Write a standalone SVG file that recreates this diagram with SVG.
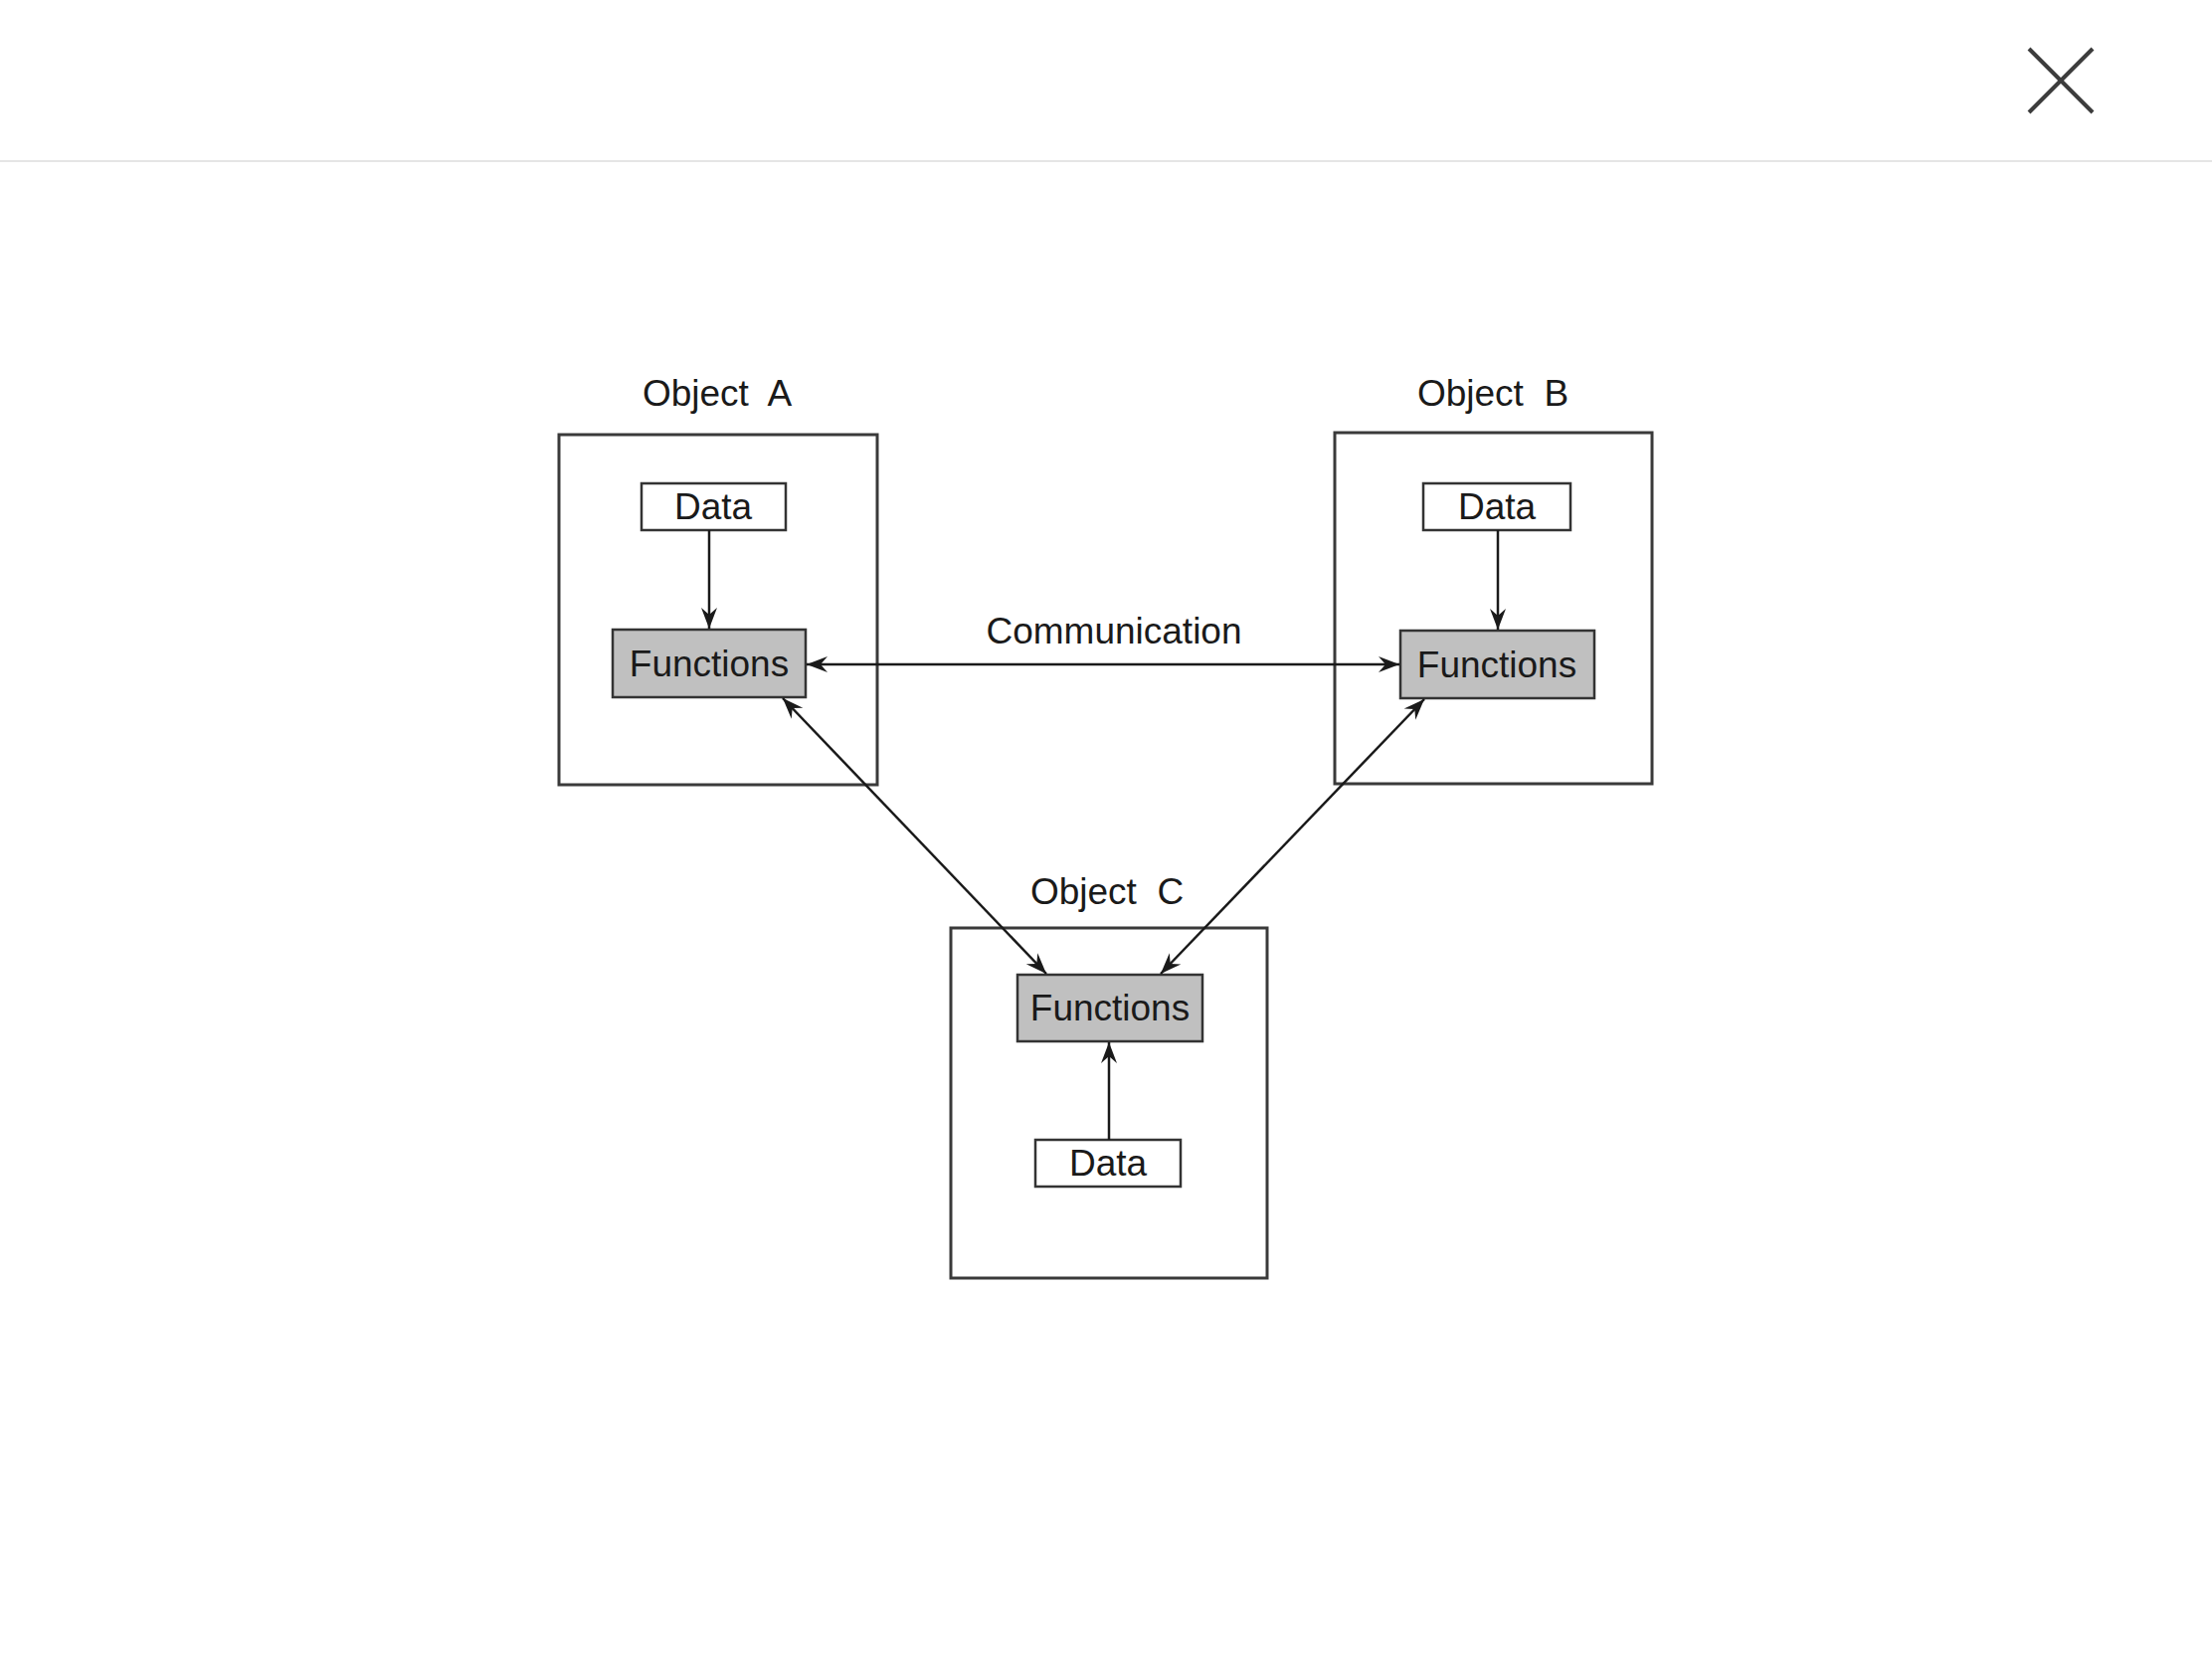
<svg xmlns="http://www.w3.org/2000/svg" width="2224" height="1668" viewBox="0 0 2224 1668">
<style>
text{font-family:"Liberation Sans",Arial,sans-serif;font-size:37px;fill:#1a1a1a;text-anchor:middle}
.obj{fill:#fff;stroke:#3a3a3a;stroke-width:3}
.data{fill:#fff;stroke:#333;stroke-width:2.5}
.fn{fill:#c0c0c0;stroke:#333;stroke-width:2.5}
.con{stroke:#1a1a1a;stroke-width:2.5;fill:none}
</style>
<defs>
<marker id="ah" markerUnits="userSpaceOnUse" markerWidth="24" markerHeight="18" viewBox="-22 -9 24 18" refX="0" refY="0" orient="auto-start-reverse">
<path d="M0,0 L-21,-8 L-14,0 L-21,8 Z" fill="#1a1a1a"/>
</marker>
</defs>
<rect width="2224" height="1668" fill="#fff"/>
<g id="close">
<line x1="2040" y1="49" x2="2104" y2="113" stroke="#3c3c3c" stroke-width="4"/>
<line x1="2104" y1="49" x2="2040" y2="113" stroke="#3c3c3c" stroke-width="4"/>
</g>
<line x1="0" y1="162" x2="2224" y2="162" stroke="#dddddd" stroke-width="1.5"/>
<g id="objectA">
<text x="721" y="408">Object&#160; A</text>
<rect class="obj" x="562" y="437" width="320" height="352"/>
<g id="dataA"><rect class="data" x="645" y="486" width="145" height="47"/><text x="717" y="522">Data</text></g>
<g id="functionsA"><rect class="fn" x="616" y="633" width="194" height="68"/><text x="713" y="680">Functions</text></g>
</g>
<g id="objectB">
<text x="1501" y="408">Object&#160; B</text>
<rect class="obj" x="1342" y="435" width="319" height="353"/>
<g id="dataB"><rect class="data" x="1431" y="486" width="148" height="47"/><text x="1505" y="522">Data</text></g>
<g id="functionsB"><rect class="fn" x="1408" y="634" width="195" height="68"/><text x="1505" y="681">Functions</text></g>
</g>
<g id="objectC">
<text x="1113" y="909">Object&#160; C</text>
<rect class="obj" x="956" y="933" width="318" height="352"/>
<g id="functionsC"><rect class="fn" x="1023" y="980" width="186" height="67"/><text x="1116" y="1026">Functions</text></g>
<g id="dataC"><rect class="data" x="1041" y="1146" width="146" height="47"/><text x="1114" y="1182">Data</text></g>
</g>
<g id="connectors">
<line class="con" x1="713" y1="533" x2="713" y2="632" marker-end="url(#ah)"/>
<line class="con" x1="1506" y1="533" x2="1506" y2="633" marker-end="url(#ah)"/>
<line class="con" x1="1115" y1="1146" x2="1115" y2="1048" marker-end="url(#ah)"/>
<line class="con" x1="811" y1="668" x2="1407" y2="668" marker-start="url(#ah)" marker-end="url(#ah)"/>
<line class="con" x1="787" y1="702" x2="1052" y2="979" marker-start="url(#ah)" marker-end="url(#ah)"/>
<line class="con" x1="1432" y1="703" x2="1167" y2="979" marker-start="url(#ah)" marker-end="url(#ah)"/>
<text x="1120" y="647">Communication</text>
</g>
</svg>
